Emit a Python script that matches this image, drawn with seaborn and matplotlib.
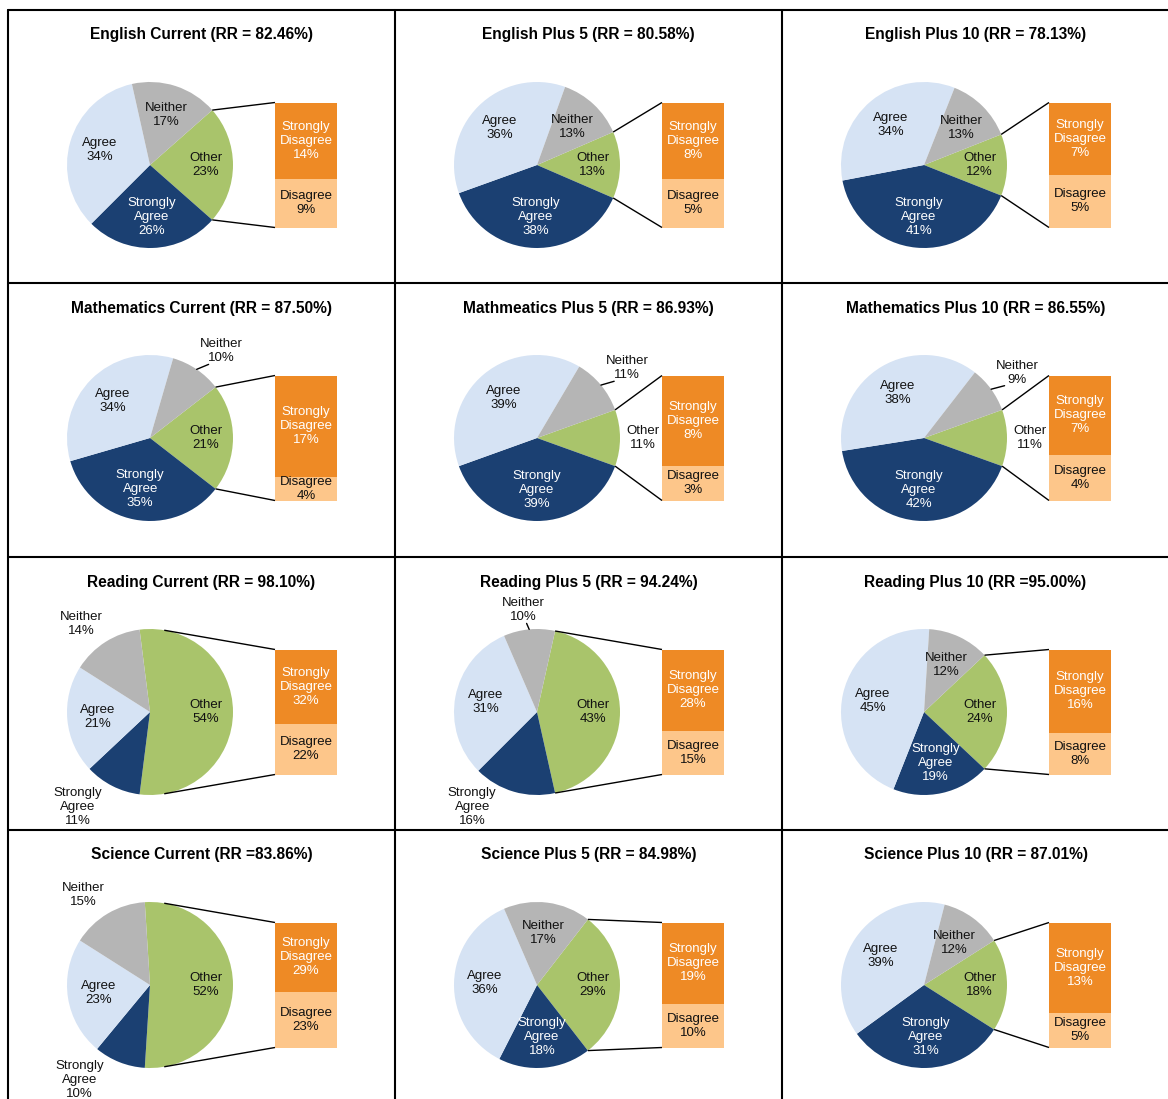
import numpy as np
import matplotlib
matplotlib.use("Agg")
import matplotlib.pyplot as plt
import seaborn as sns

# ---- data -------------------------------------------------------------
titles = [
    "English Current (RR = 82.46%)", "English Plus 5 (RR = 80.58%)", "English Plus 10 (RR = 78.13%)",
    "Mathematics Current (RR = 87.50%)", "Mathmeatics Plus 5 (RR = 86.93%)", "Mathematics Plus 10 (RR = 86.55%)",
    "Reading Current (RR = 98.10%)", "Reading Plus 5 (RR = 94.24%)", "Reading Plus 10 (RR =95.00%)",
    "Science Current (RR =83.86%)", "Science Plus 5 (RR = 84.98%)", "Science Plus 10 (RR = 87.01%)",
]
pie_names = ["Other", "Strongly\nAgree", "Agree", "Neither"]
bar_names = ["Strongly\nDisagree", "Disagree"]

other = [23, 13, 12, 21, 11, 11, 54, 43, 24, 52, 29, 18]
strongly_agree = [26, 38, 41, 35, 39, 42, 11, 16, 19, 10, 18, 31]
agree = [34, 36, 34, 34, 39, 38, 21, 31, 45, 23, 36, 39]
neither = [17, 13, 13, 10, 11, 9, 14, 10, 12, 15, 17, 12]
strongly_disagree = [14, 8, 7, 17, 8, 7, 32, 28, 16, 29, 19, 13]
disagree = [9, 5, 5, 4, 3, 4, 22, 15, 8, 23, 10, 5]

# ---- style ------------------------------------------------------------
sns.set_theme(style="white")
plt.rcParams["font.family"] = ["Liberation Sans", "DejaVu Sans"]

pie_colors = ["#A9C46B", "#1B4072", "#D6E3F4", "#B5B5B5"]
pie_text = ["#111111", "white", "#111111", "#111111"]
bar_colors = ["#EE8A25", "#FDC68A"]
bar_text = ["white", "#111111"]

W, H = 1168, 1099
fig = plt.figure(figsize=(W / 100, H / 100), dpi=100)
ax = fig.add_axes([0, 0, 1, 1])
ax.set_xlim(0, W)
ax.set_ylim(0, H)
ax.set_autoscale_on(False)
renderer = fig.canvas.get_renderer()

col_left = [8, 395, 782]
row_top = [10, 283, 557, 830]
CELL_W, CELL_H = 387, 274
R = 83.0
BAR_W, BAR_H = 62.0, 125.0
LABEL_FS = 9.5
LS = 1.22


def text_size(s):
    t = ax.text(0, 0, s, fontsize=LABEL_FS, linespacing=LS, ha="center", va="center")
    bb = t.get_window_extent(renderer)
    t.remove()
    return bb.width, bb.height


for i in range(12):
    r, c = divmod(i, 3)
    left = col_left[c]
    top = row_top[r]
    cx = left + 142
    cy = H - (top + 155)
    cell_bottom = H - (top + CELL_H)

    # title
    ax.text(left + CELL_W / 2, H - (top + 25), titles[i], ha="center", va="center",
            fontsize=11.2, fontweight="bold", color="black")

    vals = [other[i], strongly_agree[i], agree[i], neither[i]]
    start = other[i] * 1.8
    ax.pie(vals, startangle=start, counterclock=False, center=(cx, cy), radius=R,
           colors=pie_colors, wedgeprops=dict(linewidth=0), frame=True)

    # wedge labels
    a = start
    for k, v in enumerate(vals):
        mid_deg = (a - v * 1.8 + 180) % 360 - 180
        a -= v * 3.6
        mid = np.deg2rad(mid_deg)
        s = f"{pie_names[k]}\n{v}%"
        cosm, sinm = np.cos(mid), np.sin(mid)
        outside = v < 12 or (v < 17 and abs(mid_deg) > 100)
        if not outside:
            f = 0.67 if k == 0 else 0.63
            ax.text(cx + f * R * cosm, cy + f * R * sinm, s, ha="center", va="center",
                    fontsize=LABEL_FS, linespacing=LS, color=pie_text[k])
            continue
        w, h = text_size(s)
        g = 6.0
        sx = np.clip(cosm * 2.5, -1, 1)
        sy = np.clip(sinm * 2.5, -1, 1)
        px, py = (R + g) * cosm, (R + g) * sinm
        lx, ly = px + sx * w / 2, py + sy * h / 2
        # keep the label inside its cell, sliding it around the circle
        low = cell_bottom + 4 - cy
        if ly - h / 2 < low:
            ly = low + h / 2
            corner_y = ly - sy * h / 2
            corner_x = np.sign(cosm) * np.sqrt(max((R + g) ** 2 - corner_y ** 2, 0))
            lx = corner_x + sx * w / 2
        ax.text(cx + lx, cy + ly, s, ha="center", va="center", fontsize=LABEL_FS,
                linespacing=LS, color="#111111")
        if k == 3 and v <= 11:
            ex, ey = lx - sx * w / 2 * 0.6, ly - sy * h / 2
            ax.plot([cx + R * cosm, cx + ex], [cy + R * sinm, cy + ey], color="black", lw=1.0)

    # stacked bar splitting the "Other" slice
    x0 = cx + 125
    parts = [strongly_disagree[i], disagree[i]]
    total = sum(parts)
    ytop = cy + BAR_H / 2
    for k, v in enumerate(parts):
        hgt = BAR_H * v / total
        ax.bar(x0, hgt, width=BAR_W, bottom=ytop - hgt, align="edge",
               color=bar_colors[k], linewidth=0)
        ax.text(x0 + BAR_W / 2, ytop - hgt / 2, f"{bar_names[k]}\n{v}%", ha="center",
                va="center", fontsize=LABEL_FS, linespacing=LS, color=bar_text[k])
        ytop -= hgt

    # connector lines from the slice to the bar
    dx, dy = x0 - cx, BAR_H / 2
    d = np.hypot(dx, dy)
    tangent = np.arctan2(dy, dx) + np.arccos(R / d)
    half = np.deg2rad(other[i] * 1.8)
    ang = min(half, tangent)
    for sgn in (1, -1):
        ax.plot([cx + R * np.cos(ang), x0], [cy + sgn * R * np.sin(ang), cy + sgn * dy],
                color="black", lw=1.0, solid_capstyle="butt")

# panel grid
for yt in row_top:
    ax.plot([8, W], [H - yt, H - yt], color="black", lw=1.5)
for xl in col_left:
    ax.plot([xl, xl], [H - 10, 0], color="black", lw=1.5)

ax.set_xlim(0, W)
ax.set_ylim(0, H)
ax.set_aspect("auto")
ax.axis("off")
fig.savefig("out.png", dpi=100, facecolor="white")
